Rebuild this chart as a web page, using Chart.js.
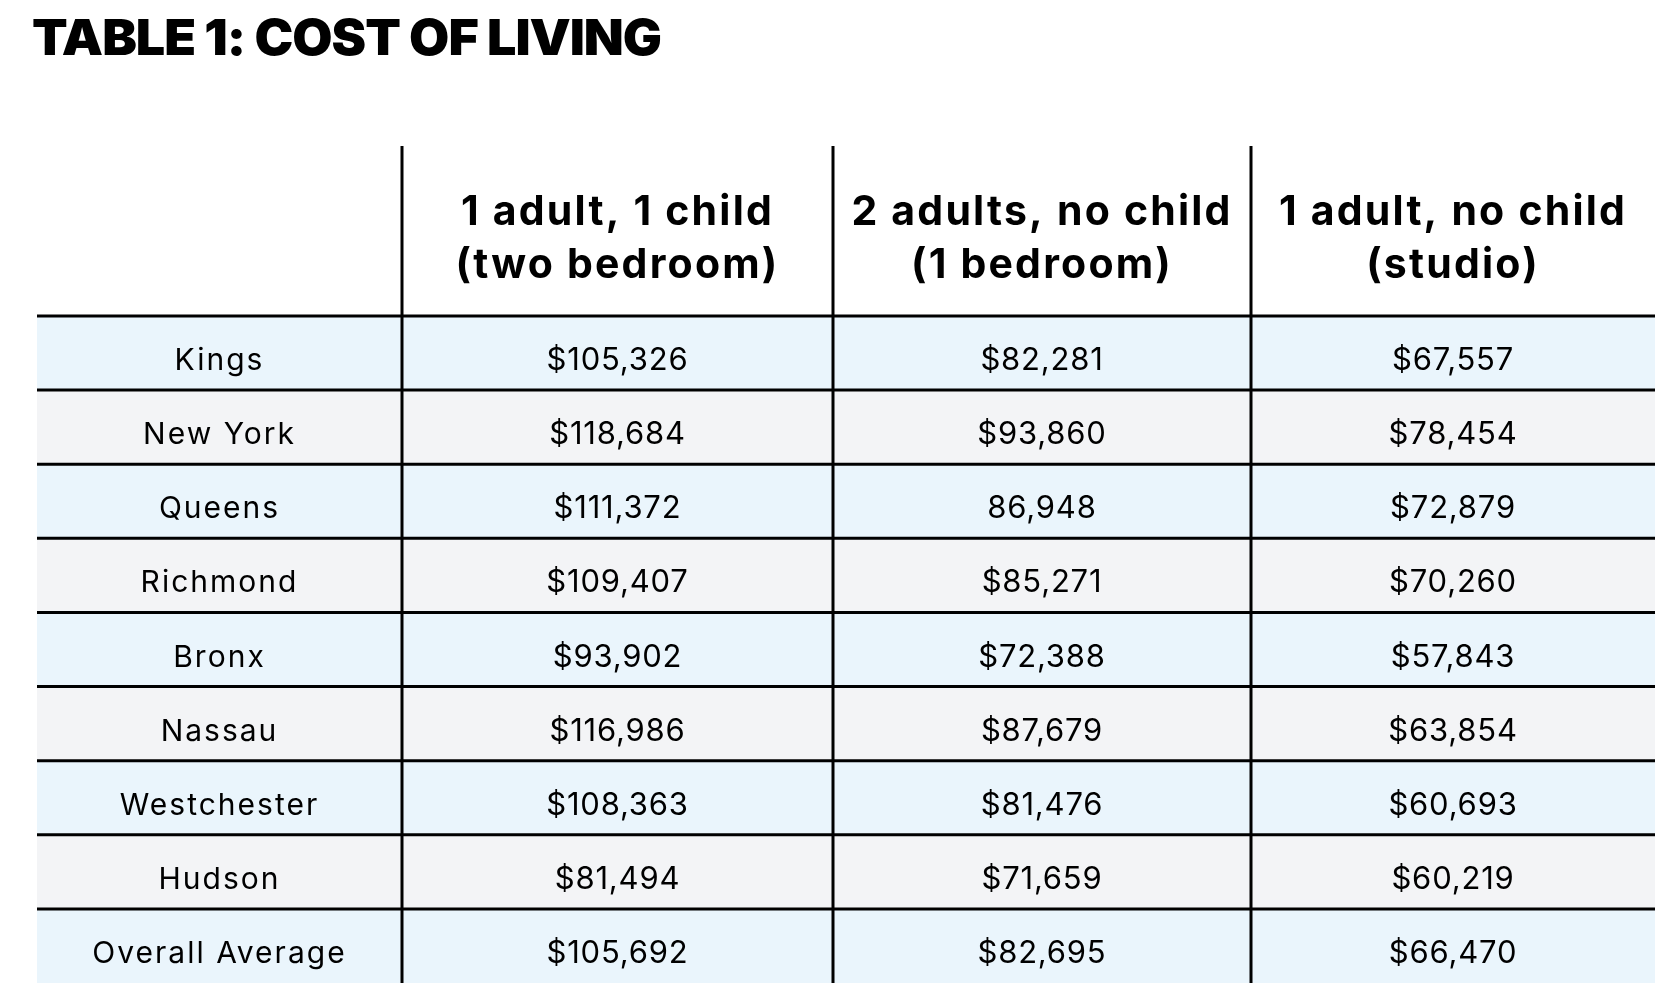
<!DOCTYPE html>
<html>
<head>
<meta charset="utf-8">
<title>Cost of living</title>
<style>
  html, body { margin: 0; padding: 0; background: #fff; }
  #wrap { width: 1672px; height: 1008px; position: relative; }
</style>
<script src="https://cdn.jsdelivr.net/npm/chart.js@4.4.1/dist/chart.umd.min.js"></script>
</head>
<body>
<div id="wrap"><canvas id="costTable"></canvas></div>
<script>
// table contents
const tableTitle = 'TABLE 1: COST OF LIVING';
const counties = ['Kings', 'New York', 'Queens', 'Richmond', 'Bronx', 'Nassau', 'Westchester', 'Hudson', 'Overall Average'];
const columnHeads = [
  ['1 adult, 1 child', '(two bedroom)'],
  ['2 adults, no child', '(1 bedroom)'],
  ['1 adult, no child', '(studio)']
];
const oneAdultOneChild = [105326, 118684, 111372, 109407, 93902, 116986, 108363, 81494, 105692];
const twoAdultsNoChild = [82281, 93860, 86948, 85271, 72388, 87679, 81476, 71659, 82695];
const oneAdultNoChild = [67557, 78454, 72879, 70260, 57843, 63854, 60693, 60219, 66470];
const noDollarSign = [[2, 1]]; // Queens / 2 adults is printed without "$" in the source

const columns = [oneAdultOneChild, twoAdultsNoChild, oneAdultNoChild];

// layout
const colWidths = [365, 431, 418, 404];
const tableWidth = colWidths.reduce((a, b) => a + b, 0);
const headerHeight = 170;
const BLUE = '#eaf5fc';
const GREY = '#f3f4f6';

function fmt(v, row, col) {
  const plain = noDollarSign.some(([r, c]) => r === row && c === col);
  return (plain ? '' : '$') + v.toLocaleString('en-US');
}

const tableDraw = {
  id: 'tableDraw',
  afterDatasetsDraw(chart) {
    const { ctx, chartArea, scales: { x, y } } = chart;
    const edges = [0];
    colWidths.forEach(w => edges.push(edges[edges.length - 1] + w));
    const ex = edges.map(v => x.getPixelForValue(v));
    const top = chartArea.top;

    ctx.save();
    ctx.fillStyle = '#000';
    ctx.strokeStyle = '#000';

    // title
    ctx.font = '900 50px Inter';
    ctx.letterSpacing = '-1px';
    ctx.textBaseline = 'alphabetic';
    ctx.textAlign = 'left';
    const tw = ctx.measureText(tableTitle).width;
    ctx.save();
    ctx.translate(32, 55);
    ctx.scale(629 / tw, 1);
    ctx.fillText(tableTitle, 0, 0);
    ctx.restore();

    // horizontal rules
    ctx.lineWidth = 3;
    const rules = [top];
    for (let i = 0; i < counties.length - 1; i++) {
      rules.push((y.getPixelForValue(i) + y.getPixelForValue(i + 1)) / 2);
    }
    rules.forEach(py => {
      ctx.beginPath();
      ctx.moveTo(ex[0], py);
      ctx.lineTo(ex[ex.length - 1], py);
      ctx.stroke();
    });

    // vertical rules
    for (let i = 1; i < ex.length - 1; i++) {
      ctx.beginPath();
      ctx.moveTo(ex[i], top - headerHeight);
      ctx.lineTo(ex[i], chartArea.bottom);
      ctx.stroke();
    }

    // header
    ctx.textAlign = 'center';
    ctx.font = '700 41px Inter';
    ctx.letterSpacing = '2.2px';
    columnHeads.forEach((lines, c) => {
      const cx = (ex[c + 1] + ex[c + 2]) / 2;
      ctx.fillText(lines[0], cx, top - 91);
      ctx.fillText(lines[1], cx, top - 38);
    });

    // rows
    counties.forEach((name, r) => {
      const by = y.getPixelForValue(r) + 17;
      ctx.font = '400 30px Inter';
      ctx.letterSpacing = '2px';
      ctx.fillText(name, (ex[0] + ex[1]) / 2, by);
      ctx.font = '400 31px Inter';
      ctx.letterSpacing = '0.8px';
      columns.forEach((vals, c) => {
        ctx.fillText(fmt(vals[r], r, c), (ex[c + 1] + ex[c + 2]) / 2, by);
      });
    });
    ctx.restore();
  }
};

new Chart(document.getElementById('costTable'), {
  type: 'bar',
  data: {
    labels: counties,
    datasets: [{
      data: counties.map(() => [0, tableWidth]),
      backgroundColor: counties.map((_, i) => i % 2 ? GREY : BLUE),
      borderWidth: 0,
      barPercentage: 1,
      categoryPercentage: 1
    }]
  },
  options: {
    indexAxis: 'y',
    responsive: true,
    maintainAspectRatio: false,
    animation: false,
    layout: { padding: { top: 316, left: 37, right: 17, bottom: 25 } },
    scales: {
      x: { type: 'linear', min: 0, max: tableWidth, display: false },
      y: { type: 'category', offset: true, display: false }
    },
    plugins: { legend: { display: false }, tooltip: { enabled: false } }
  },
  plugins: [tableDraw]
});
</script>
</body>
</html>
